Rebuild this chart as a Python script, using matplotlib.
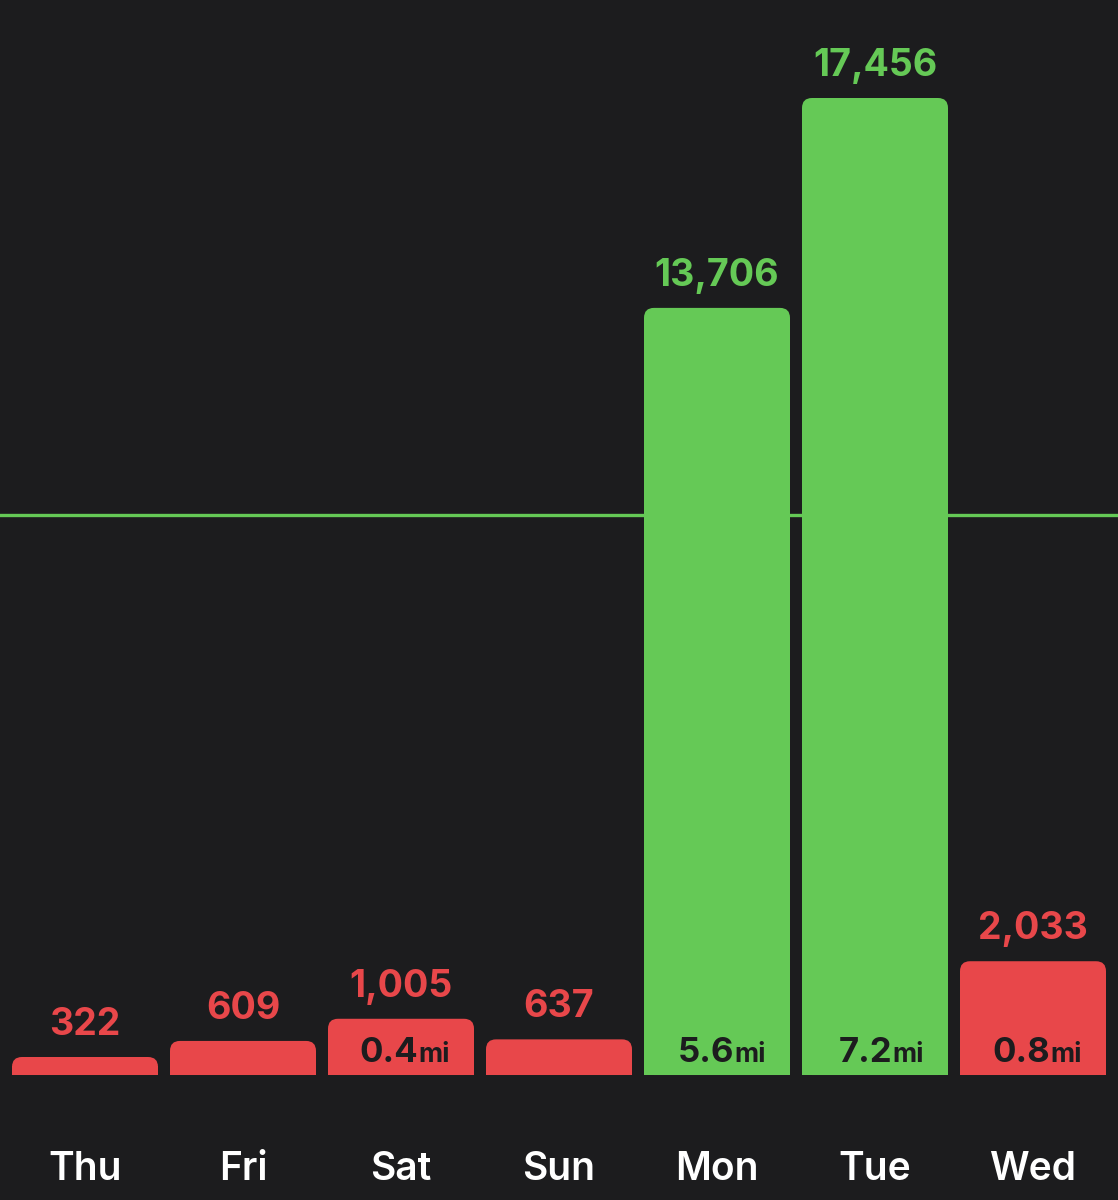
import matplotlib
matplotlib.use("Agg")
import matplotlib.pyplot as plt
from matplotlib.patches import FancyBboxPatch, Rectangle

days = ["Thu", "Fri", "Sat", "Sun", "Mon", "Tue", "Wed"]
steps = [322, 609, 1005, 637, 13706, 17456, 2033]
miles = [None, None, "0.4", None, "5.6", "7.2", "0.8"]
goal = 10000

bg = "#1c1c1e"
green = "#65c956"
red = "#e8474a"

plt.rcParams['font.family'] = ['Inter', 'DejaVu Sans']

fig = plt.figure(figsize=(11.18, 12), dpi=100, facecolor=bg)
ax = fig.add_axes([0, 0, 1, 1])
ax.set_facecolor(bg)
ax.set_xlim(-85 / 158, (1118 - 85) / 158)
ax.set_ylim(-2233, 19207)
ax.axis("off")

ax.axhline(goal, color=green, lw=2.4, zorder=1)

w = 146 / 158
for i, (d, s, m) in enumerate(zip(days, steps, miles)):
    c = green if s >= goal else red
    x0 = i - w / 2
    p = FancyBboxPatch((x0, 0), w, s, boxstyle="round,pad=0,rounding_size=0.063",
                       mutation_aspect=2830, fc=c, ec="none", zorder=2)
    ax.add_patch(p)
    ax.add_patch(Rectangle((x0, 0), w, s / 2, fc=c, ec="none", zorder=2))
    ax.text(i, s + 250, f"{s:,}", ha="center", va="bottom", color=c,
            fontsize=27, fontweight="bold")
    ax.text(i, -1870, d, ha="center", va="baseline", color="white",
            fontsize=28, fontweight="semibold")
    if m:
        ax.text(i + 0.11, 230, m, ha="right", va="baseline", color=bg,
                fontsize=25, fontweight="bold", zorder=3)
        ax.text(i + 0.11, 230, "mi", ha="left", va="baseline", color=bg,
                fontsize=19, fontweight="bold", zorder=3)

fig.savefig("out.png", dpi=100, facecolor=bg)
